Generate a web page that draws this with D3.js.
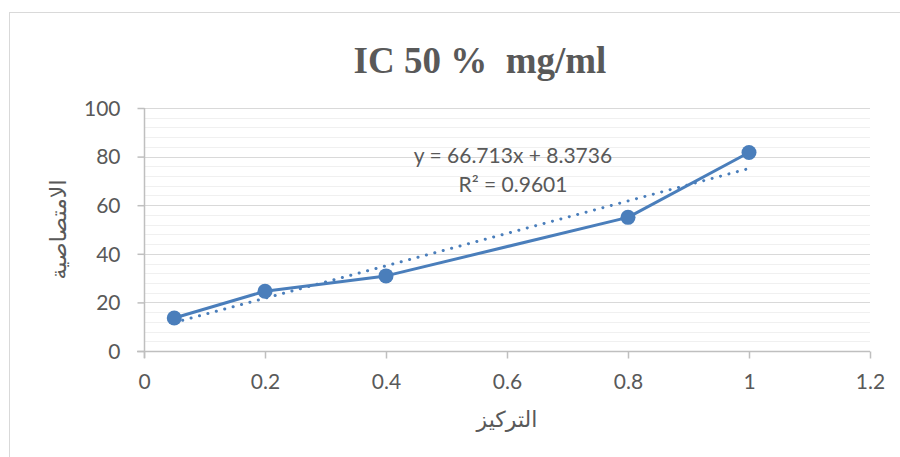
<!DOCTYPE html>
<html>
<head>
<meta charset="utf-8">
<script src="https://cdn.jsdelivr.net/npm/d3@7/dist/d3.min.js"></script>
<style>
  html, body { margin: 0; padding: 0; background: #fff; }
  svg { display: block; }
</style>
</head>
<body>
<div id="chart"></div>
<script>
// data
const concentrations = [0.05, 0.2, 0.4, 0.8, 1];
const absorbance = [13.6, 24.6, 30.9, 55.0, 81.7];
const trendSlope = 66.713;
const trendIntercept = 8.3736;
const trendRange = [0.05, 1];
const xTicks = [0, 0.2, 0.4, 0.6, 0.8, 1, 1.2];
const yTicks = [0, 20, 40, 60, 80, 100];
const yMinorTicks = d3.range(0, 101, 4);
const title = 'IC 50 %  mg/ml';
const xLabel = 'التركيز';
const yLabel = 'الامتصاصية';
const equationLines = ['y = 66.713x + 8.3736', 'R² = 0.9601'];

const W = 900, H = 457;
const plot = { left: 144, right: 870, top: 108, bottom: 351 };
const blue = '#4A7EBB';
const textGrey = '#595959';
const tickFont = "Lato, 'Open Sans', sans-serif";

const svg = d3.select('#chart').append('svg')
  .attr('width', W).attr('height', H);

// chart frame (runs off the right/bottom edge like the reference)
svg.append('rect')
  .attr('x', 9.5).attr('y', 12.5)
  .attr('width', W).attr('height', H)
  .attr('fill', '#fff')
  .attr('stroke', '#D9D9D9').attr('stroke-width', 1);

const x = d3.scaleLinear().domain([0, 1.2]).range([plot.left, plot.right]);
const y = d3.scaleLinear().domain([0, 100]).range([plot.bottom, plot.top]);

// minor gridlines
svg.append('g').selectAll('line')
  .data(yMinorTicks.filter(v => v % 20 !== 0))
  .join('line')
  .attr('x1', plot.left).attr('x2', plot.right)
  .attr('y1', d => Math.round(y(d)) + 0.5).attr('y2', d => Math.round(y(d)) + 0.5)
  .attr('stroke', '#F0F0F0').attr('stroke-width', 1);

// major gridlines
svg.append('g').selectAll('line')
  .data(yTicks.filter(v => v !== 0))
  .join('line')
  .attr('x1', plot.left).attr('x2', plot.right)
  .attr('y1', d => Math.round(y(d)) + 0.5).attr('y2', d => Math.round(y(d)) + 0.5)
  .attr('stroke', '#D9D9D9').attr('stroke-width', 1);

// y axis
const yAxis = svg.append('g')
  .attr('transform', `translate(${plot.left + 0.5},0)`)
  .call(d3.axisLeft(y).tickValues(yTicks).tickSizeInner(7).tickSizeOuter(0).tickPadding(17));
yAxis.select('.domain').attr('stroke', '#BFBFBF').attr('stroke-width', 1.5)
  .attr('d', `M0,${plot.top}V${plot.bottom + 7}`);
yAxis.selectAll('.tick line').attr('stroke', '#BFBFBF').attr('stroke-width', 1.5);
yAxis.selectAll('.tick text')
  .attr('fill', textGrey).style('font-family', tickFont).style('font-size', '21px')
  .attr('dy', '0.35em');

// x axis
const xAxis = svg.append('g')
  .attr('transform', `translate(0,${plot.bottom + 0.5})`)
  .call(d3.axisBottom(x).tickValues(xTicks).tickFormat(d3.format('')).tickSizeInner(7).tickSizeOuter(0).tickPadding(16));
xAxis.select('.domain').attr('stroke', '#BFBFBF').attr('stroke-width', 1.5)
  .attr('d', `M${plot.left - 7},0H${plot.right}`);
xAxis.selectAll('.tick line').attr('stroke', '#BFBFBF').attr('stroke-width', 1.5);
xAxis.selectAll('.tick text')
  .attr('fill', textGrey).style('font-family', tickFont).style('font-size', '21px')
  .attr('dy', '0.71em');

// trendline (dotted)
const trend = trendRange.map(v => [v, trendSlope * v + trendIntercept]);
svg.append('path')
  .datum(trend)
  .attr('d', d3.line().x(d => x(d[0])).y(d => y(d[1])))
  .attr('fill', 'none')
  .attr('stroke', blue).attr('stroke-width', 3)
  .attr('stroke-linecap', 'round')
  .attr('stroke-dasharray', '0.1 8.6');

// data line
const pts = concentrations.map((c, i) => [c, absorbance[i]]);
svg.append('path')
  .datum(pts)
  .attr('d', d3.line().x(d => x(d[0])).y(d => y(d[1])))
  .attr('fill', 'none')
  .attr('stroke', blue).attr('stroke-width', 3)
  .attr('stroke-linejoin', 'round');

svg.append('g').selectAll('circle')
  .data(pts)
  .join('circle')
  .attr('cx', d => x(d[0])).attr('cy', d => y(d[1]))
  .attr('r', 7.5)
  .attr('fill', blue);

// equation label
svg.append('g').selectAll('text')
  .data(equationLines)
  .join('text')
  .attr('x', 513).attr('y', (d, i) => 163 + i * 29)
  .attr('text-anchor', 'middle')
  .attr('fill', textGrey)
  .style('font-family', tickFont).style('font-size', '21px')
  .text(d => d);

// title
svg.append('text')
  .attr('x', 480).attr('y', 73)
  .attr('text-anchor', 'middle')
  .attr('fill', textGrey)
  .style('font-family', "'Liberation Serif', 'Times New Roman', serif")
  .style('font-weight', 'bold').style('font-size', '37px')
  .style('white-space', 'pre')
  .text(title);

// axis titles
svg.append('text')
  .attr('x', (plot.left + plot.right) / 2).attr('y', 427)
  .attr('text-anchor', 'middle')
  .attr('fill', textGrey)
  .style('font-family', "'DejaVu Sans', sans-serif").style('font-size', '22px')
  .text(xLabel);

svg.append('text')
  .attr('transform', `translate(66,${(plot.top + plot.bottom) / 2}) rotate(-90)`)
  .attr('text-anchor', 'middle')
  .attr('fill', textGrey)
  .style('font-family', "'DejaVu Sans', sans-serif").style('font-size', '22px')
  .text(yLabel);
</script>
</body>
</html>
